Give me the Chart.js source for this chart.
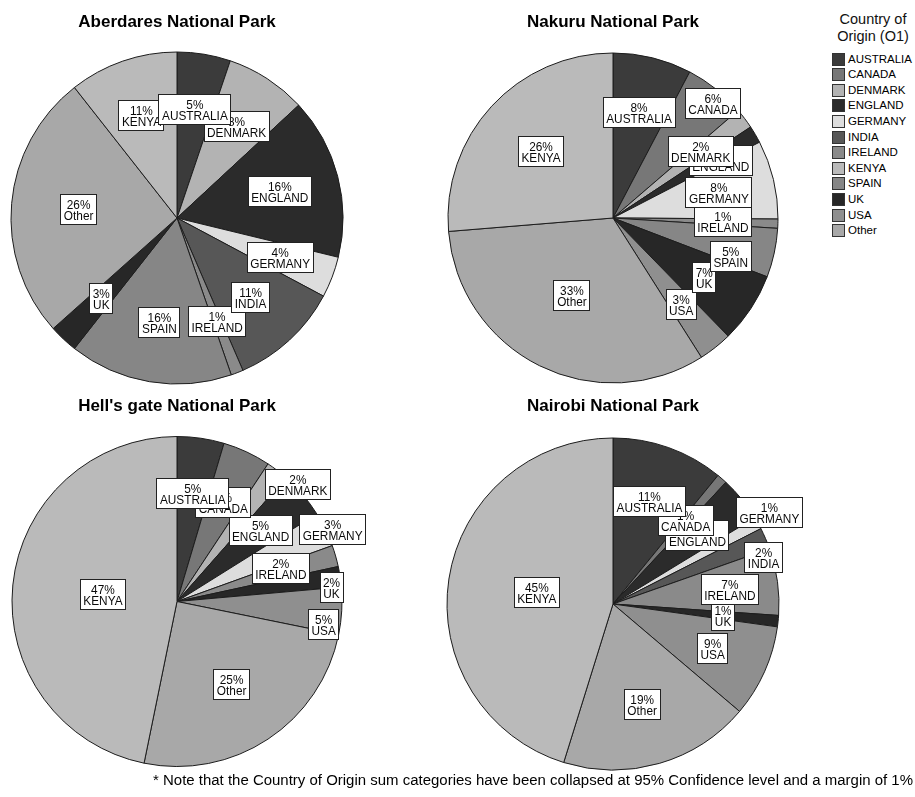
<!DOCTYPE html>
<html>
<head>
<meta charset="utf-8">
<script src="https://cdn.jsdelivr.net/npm/chart.js@4.4.1/dist/chart.umd.min.js"></script>
<style>
  html, body { margin: 0; padding: 0; background: #fff; width: 915px; height: 797px; overflow: hidden;
    font-family: "Liberation Sans", Arial, sans-serif; color: #000; }
  canvas { position: absolute; }
  #legendTitle { position: absolute; left: 826px; top: 11px; width: 94px; text-align: center;
    font-size: 14.5px; line-height: 17px; color: #111; }
  .item { position: absolute; left: 832px; height: 14px; font-size: 11.5px; line-height: 14px; color: #000; white-space: nowrap; }
  .sw { position: absolute; left: 0; top: 1px; width: 11px; height: 11px; border: 1px solid #333; box-sizing: content-box; }
  .item span.t { position: absolute; left: 16px; top: 0; }
  #note { position: absolute; left: 153px; top: 772px; font-size: 14px; line-height: 16px; white-space: nowrap;
    transform-origin: 0 0; color: #000; }
</style>
</head>
<body>
<canvas id="pie0" width="410" height="392" style="left:0px;top:0px"></canvas>
<canvas id="pie1" width="400" height="392" style="left:420px;top:0px"></canvas>
<canvas id="pie2" width="410" height="400" style="left:0px;top:385px"></canvas>
<canvas id="pie3" width="400" height="400" style="left:420px;top:385px"></canvas>
<div id="legendTitle">Country of<br>Origin (O1)</div>
<div id="legend"></div>
<div id="note"><span id="noteText">* Note that the Country of Origin sum categories have been collapsed at 95% Confidence level and a margin of 1%</span></div>
<script>
// Countries in legend order
const categories = ['AUSTRALIA', 'CANADA', 'DENMARK', 'ENGLAND', 'GERMANY', 'INDIA',
                    'IRELAND', 'KENYA', 'SPAIN', 'UK', 'USA', 'Other'];

// Share of visitors (%) per park, same order as categories (0 = not listed)
const aberdares = [5.2, 0, 7.9, 15.7, 4.0, 10.7, 1.2, 10.6, 15.9, 2.8, 0, 26.0];
const nakuru    = [7.7, 6.0, 2.0, 1.7, 7.7, 0, 0.9, 26.3, 4.8, 6.9, 3.3, 32.7];
const hellsgate = [4.6, 4.7, 2.2, 4.6, 3.4, 0, 2.1, 46.8, 0, 2.0, 4.6, 25.0];
const nairobi   = [10.9, 1.0, 0, 4.4, 1.2, 2.1, 6.5, 45.2, 0, 1.1, 9.0, 18.6];

const parkNames = ['Aberdares National Park', 'Nakuru National Park',
                   "Hell's gate National Park", 'Nairobi National Park'];

// Grey shades per country (legend order)
const shades = ['#3b3b3b', '#777777', '#b3b3b3', '#2b2b2b', '#dddddd', '#575757',
                '#8a8a8a', '#bababa', '#868686', '#272727', '#8f8f8f', '#a8a8a8'];

// Slices run clockwise from 12 o'clock with KENYA drawn last
const sliceOrder = ['AUSTRALIA', 'CANADA', 'DENMARK', 'ENGLAND', 'GERMANY', 'INDIA',
                    'IRELAND', 'SPAIN', 'UK', 'USA', 'Other', 'KENYA'];

const FONT = '"Liberation Sans", Arial, sans-serif';

// Value boxes: placed at the wedge centroid unless a spot is given
// as [angle clockwise from top in degrees, fraction of the radius].
const boxLabels = {
  id: 'boxLabels',
  afterDatasetsDraw(chart, args, opts) {
    const ctx = chart.ctx;
    const meta = chart.getDatasetMeta(0);
    const ds = chart.data.datasets[0];
    const total = ds.data.reduce((a, b) => a + b, 0);
    const place = opts.place || {};
    const sx = 0.91;
    ctx.save();
    ctx.font = '13px ' + FONT;
    for (let i = meta.data.length - 1; i >= 0; i--) {
      const arc = meta.data[i];
      const p = arc.getProps(['x', 'y', 'startAngle', 'endAngle', 'outerRadius'], true);
      const name = chart.data.labels[i];
      const theta = p.endAngle - p.startAngle;
      let ang = (p.startAngle + p.endAngle) / 2;
      let dist = 4 * p.outerRadius * Math.sin(theta / 2) / (3 * theta);
      if (place[name]) {
        ang = place[name][0] * Math.PI / 180 - Math.PI / 2;
        dist = place[name][1] * p.outerRadius;
      }
      const cx = p.x + dist * Math.cos(ang);
      const cy = p.y + dist * Math.sin(ang);
      const pct = Math.round(ds.data[i] / total * 100) + '%';
      const w = Math.round(Math.max(ctx.measureText(pct).width, ctx.measureText(name).width) * sx + 7);
      const h = 31;
      const bx = Math.round(cx - w / 2), by = Math.round(cy - h / 2);
      ctx.fillStyle = '#ffffff';
      ctx.fillRect(bx, by, w, h);
      ctx.strokeStyle = '#222';
      ctx.lineWidth = 1;
      ctx.strokeRect(bx + 0.5, by + 0.5, w - 1, h - 1);
      ctx.save();
      ctx.translate(cx, by + h / 2);
      ctx.scale(sx, 1);
      ctx.textAlign = 'center';
      ctx.textBaseline = 'alphabetic';
      ctx.fillStyle = '#0a0a0a';
      ctx.fillText(pct, 0, -0.8);
      ctx.fillText(name, 0, 10.2);
      ctx.restore();
    }
    ctx.restore();
  }
};

// Canvas placement and pie geometry
const frames = [
  { id: 'pie0', L: 0,   T: 0,   W: 410, H: 392, cx: 177,   cy: 218, r: 166, ty: 22.7 },
  { id: 'pie1', L: 420, T: 0,   W: 400, H: 392, cx: 613,   cy: 218, r: 165, ty: 22.7 },
  { id: 'pie2', L: 0,   T: 385, W: 410, H: 400, cx: 177,   cy: 601.5, r: 165, ty: 406.7 },
  { id: 'pie3', L: 420, T: 385, W: 400, H: 400, cx: 613,   cy: 604, r: 166, ty: 406.7 }
];

const labelSpots = [
  {},
  { CANADA: [41.2, 0.92], ENGLAND: [62, 0.74], SPAIN: [107.9, 0.75], Other: [208, 0.53] },
  { DENMARK: [45.9, 1.02], GERMANY: [65.1, 1.04], IRELAND: [72.4, 0.66], UK: [85, 0.94], USA: [99, 0.9] },
  { ENGLAND: [51, 0.655], GERMANY: [59.8, 1.09], INDIA: [72.8, 0.95], IRELAND: [82.7, 0.71] }
];

const parkValues = [aberdares, nakuru, hellsgate, nairobi];

parkValues.forEach((vals, k) => {
  const f = frames[k];
  const labels = [], data = [], colors = [];
  sliceOrder.forEach(name => {
    const idx = categories.indexOf(name);
    if (vals[idx] > 0) {
      labels.push(name);
      data.push(vals[idx]);
      colors.push(shades[idx]);
    }
  });
  const s = 2 * f.r + 1;
  const left = f.cx - s / 2 - f.L;
  const top = f.cy - s / 2 - f.T;
  const lh = 17 * 1.2;
  const pt = f.ty - f.T - lh / 2;
  const pb = top - pt - lh;
  new Chart(document.getElementById(f.id), {
    type: 'pie',
    data: {
      labels: labels,
      datasets: [{ data: data, backgroundColor: colors, borderColor: '#1c1c1c', borderWidth: 1 }]
    },
    options: {
      responsive: false,
      animation: false,
      events: [],
      layout: { padding: { left: left, right: f.W - left - s, top: 0, bottom: f.H - top - s } },
      plugins: {
        legend: { display: false },
        tooltip: { enabled: false },
        title: {
          display: true,
          text: parkNames[k],
          color: '#000',
          font: { family: FONT, size: 17, weight: 'bold', lineHeight: 1.2 },
          padding: { top: pt, bottom: pb }
        },
        boxLabels: { place: labelSpots[k] }
      }
    },
    plugins: [boxLabels]
  });
});

// Legend
const legend = document.getElementById('legend');
categories.forEach((name, i) => {
  const d = document.createElement('div');
  d.className = 'item';
  d.style.top = (51.5 + i * 15.6) + 'px';
  const sw = document.createElement('div');
  sw.className = 'sw';
  sw.style.background = shades[i];
  const t = document.createElement('span');
  t.className = 't';
  t.textContent = name;
  d.appendChild(sw);
  d.appendChild(t);
  legend.appendChild(d);
});

// Footnote stretched to its line width
const noteText = document.getElementById('noteText');
const nw = noteText.getBoundingClientRect().width;
document.getElementById('note').style.transform = 'scaleX(' + (760 / nw) + ')';
</script>
</body>
</html>
